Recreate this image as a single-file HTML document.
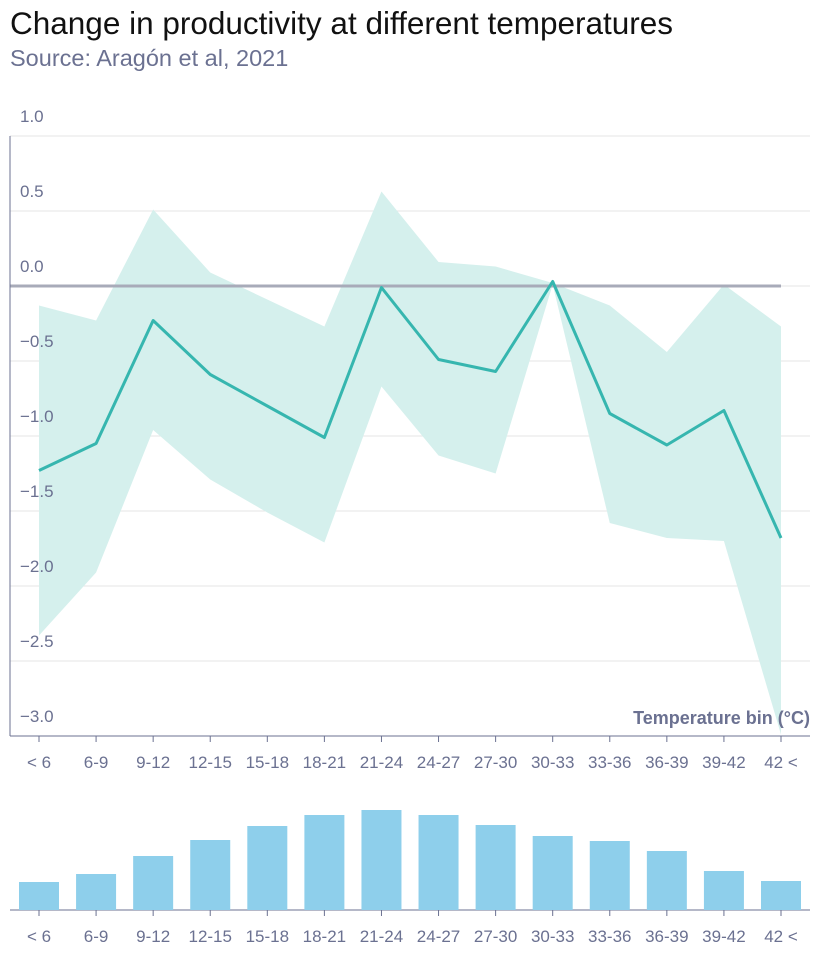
<!DOCTYPE html>
<html><head><meta charset="utf-8"><style>
body{margin:0;background:#fff;font-family:"Liberation Sans",sans-serif}
#wrap{position:relative;width:820px;height:954px}
h1{position:absolute;left:10px;top:5px;margin:0;font-size:31.5px;font-weight:normal;color:#111;white-space:nowrap}
.src{position:absolute;left:10px;top:45px;font-size:23.5px;color:#6b7191;white-space:nowrap}
svg{position:absolute;left:0;top:0}
</style></head><body><div id="wrap">
<svg id="s" width="820" height="954"></svg>
<h1>Change in productivity at different temperatures</h1>
<div class="src">Source: Aragón et al, 2021</div>
</div>
<script>
const categories=["< 6","6-9","9-12","12-15","15-18","18-21","21-24","24-27","27-30","30-33","33-36","36-39","39-42","42 <"];
const mainValues=[-1.23,-1.05,-0.23,-0.59,-0.8,-1.01,-0.01,-0.49,-0.57,0.03,-0.85,-1.06,-0.83,-1.68];
const upperValues=[-0.13,-0.23,0.51,0.09,-0.09,-0.27,0.63,0.16,0.13,0.02,-0.13,-0.44,0.01,-0.27];
const lowerValues=[-2.33,-1.91,-0.96,-1.29,-1.51,-1.71,-0.67,-1.13,-1.25,0.01,-1.58,-1.68,-1.7,-2.99];
const barValues=[28,36,54,70,84,95,100,95,85,74,69,59,39,29];
const yTicks=[1.0,0.5,0.0,-0.5,-1.0,-1.5,-2.0,-2.5,-3.0];
const yTickLabels=["1.0","0.5","0.0","−0.5","−1.0","−1.5","−2.0","−2.5","−3.0"];
const NS="http://www.w3.org/2000/svg",s=document.getElementById('s');
function mk(t,a,p){const e=document.createElementNS(NS,t);for(const k in a)e.setAttribute(k,a[k]);(p||s).appendChild(e);return e;}
const x=i=>39+i*(742/13), y=v=>286-v*150, yb=v=>910-v;
yTicks.forEach((v,i)=>{
 const g=mk('line',{x1:10,x2:810,y1:y(v),y2:y(v),stroke:'#e6e6e6','stroke-width':1});
 
});
let band=upperValues.map((v,i)=>x(i)+','+y(v)).concat(lowerValues.map((v,i)=>x(i)+','+y(v)).reverse());
const ar=mk('polygon',{points:band.join(' '),fill:'#d5f0ed'});

const z=mk('line',{x1:10,x2:781,y1:y(0),y2:y(0),stroke:'#a8abb9','stroke-width':3});

const ln=mk('polyline',{points:mainValues.map((v,i)=>x(i)+','+y(v)).join(' '),fill:'none',stroke:'#36b6af','stroke-width':3,'stroke-linejoin':'round'});

yTicks.forEach((v,i)=>{
 const t=mk('text',{x:20,y:y(v)-14,'font-size':17,fill:'#6b7191'});
 t.textContent=yTickLabels[i];
 
});
const ya=mk('line',{x1:10,x2:10,y1:136,y2:736,stroke:'#6b7191','stroke-width':1});

const xa=mk('line',{x1:10,x2:810,y1:736,y2:736,stroke:'#6b7191','stroke-width':1});

const xt=mk('text',{x:810,y:724,'font-size':18,'font-weight':'bold',fill:'#6b7191','text-anchor':'end'});xt.textContent='Temperature bin (°C)';

const xb=mk('line',{x1:10,x2:810,y1:910,y2:910,stroke:'#6b7191','stroke-width':1});

categories.forEach((c,i)=>{
 [736,910].forEach(b=>{const tk=mk('line',{x1:x(i),x2:x(i),y1:b,y2:b+6,stroke:'#6b7191'});
  
  const t=mk('text',{x:x(i),y:b+32,'font-size':17,fill:'#6b7191','text-anchor':'middle'});t.textContent=c;
  });
 const r=mk('rect',{x:x(i)-20,y:yb(barValues[i]),width:40,height:barValues[i],fill:'#8ecfeb'});
 
});
</script></body></html>
